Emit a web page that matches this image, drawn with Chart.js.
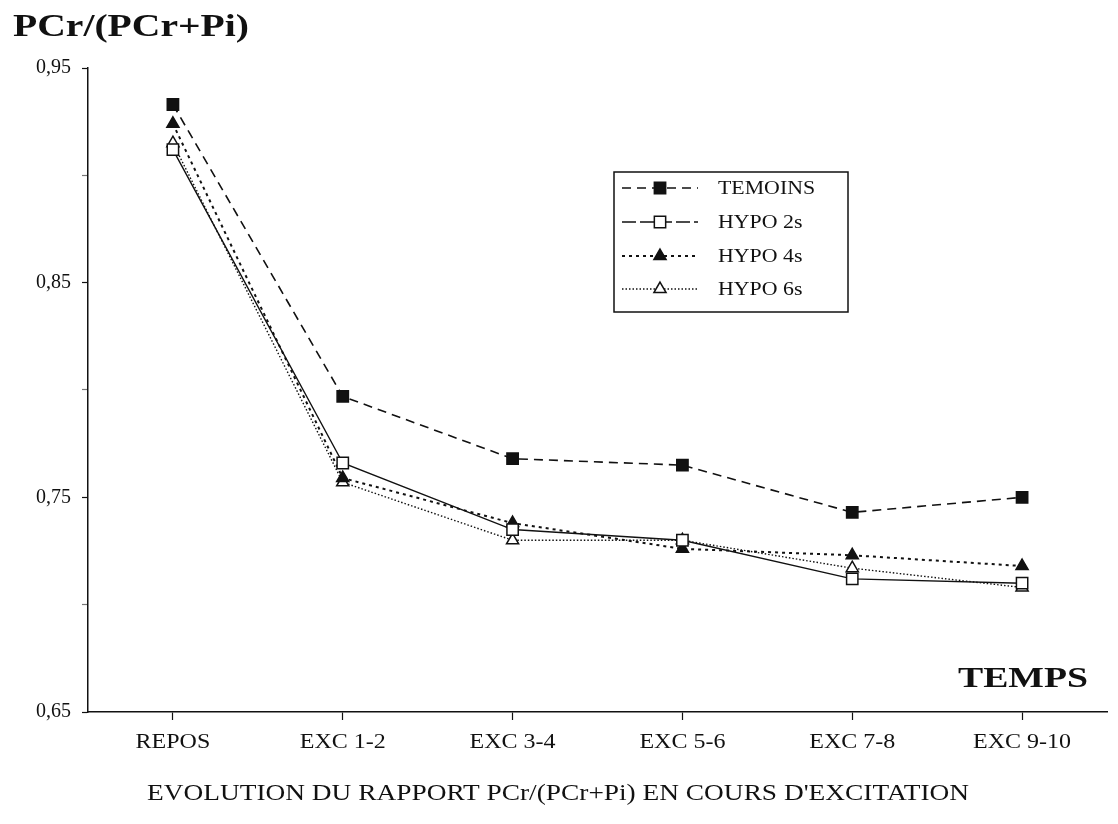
<!DOCTYPE html>
<html>
<head>
<meta charset="utf-8">
<script src="https://cdn.jsdelivr.net/npm/chart.js@4/dist/chart.umd.min.js"></script>
<style>
  html, body { margin: 0; padding: 0; background: #fff; }
  #wrap { width: 1118px; height: 824px; }
</style>
</head>
<body>
<div id="wrap"><canvas id="chart" width="1118" height="824"></canvas></div>
<script>
const categories = ['REPOS', 'EXC 1-2', 'EXC 3-4', 'EXC 5-6', 'EXC 7-8', 'EXC 9-10'];
const temoins = [0.933, 0.797, 0.768, 0.765, 0.743, 0.750];
const hypo2s = [0.912, 0.766, 0.735, 0.730, 0.712, 0.710];
const hypo4s = [0.924, 0.759, 0.738, 0.726, 0.723, 0.718];
const hypo6s = [0.915, 0.757, 0.730, 0.730, 0.717, 0.708];
const yMajorTicks = [0.65, 0.75, 0.85, 0.95];

const SERIF = '"Liberation Serif", "DejaVu Serif", serif';

// text drawn with a horizontal stretch to mimic the wide typewriter-ish face
function drawStretched(ctx, text, x, y, font, stretch, align) {
    ctx.save();
    ctx.font = font;
    ctx.textBaseline = 'middle';
    ctx.textAlign = align || 'center';
    ctx.translate(x, y);
    ctx.scale(stretch, 1);
    ctx.fillText(text, 0, 0);
    ctx.restore();
}

function drawFitted(ctx, text, x, y, font, width, align) {
    ctx.save();
    ctx.font = font;
    const w = ctx.measureText(text).width;
    ctx.restore();
    drawStretched(ctx, text, x, y, font, width / w, align);
}

const decorPlugin = {
    id: 'decor',
    beforeDraw(chart) {
        const ctx = chart.ctx;
        ctx.save();
        ctx.fillStyle = '#fff';
        ctx.fillRect(0, 0, chart.width, chart.height);
        ctx.restore();
    },
    afterDraw(chart) {
        const ctx = chart.ctx;
        const xs = chart.scales.x;
        ctx.fillStyle = '#111';

        // category labels
        categories.forEach((c, i) => {
            drawStretched(ctx, c, xs.getPixelForValue(i), 743, '20px ' + SERIF, 1.2);
        });

        drawFitted(ctx, 'PCr/(PCr+Pi)', 13, 28, 'bold 31px ' + SERIF, 236, 'left');
        drawFitted(ctx, 'TEMPS', 958, 679, 'bold 30px ' + SERIF, 130, 'left');
        drawFitted(ctx, "EVOLUTION DU RAPPORT PCr/(PCr+Pi) EN COURS D'EXCITATION", 558, 794, '24px ' + SERIF, 822, 'center');

        // legend box
        const box = { x: 614, y: 172, w: 234, h: 140 };
        ctx.save();
        ctx.strokeStyle = '#111';
        ctx.lineWidth = 1.5;
        ctx.strokeRect(box.x, box.y, box.w, box.h);
        const rows = [188, 222, 256, 289];
        chart.data.datasets.forEach((ds, i) => {
            const y = rows[i];
            ctx.save();
            ctx.strokeStyle = ds.borderColor;
            ctx.lineWidth = ds.borderWidth;
            ctx.setLineDash(ds.legendDash || ds.borderDash || []);
            ctx.beginPath();
            ctx.moveTo(622, y);
            ctx.lineTo(698, y);
            ctx.stroke();
            ctx.setLineDash([]);
            ctx.fillStyle = ds.pointBackgroundColor;
            ctx.strokeStyle = ds.pointBorderColor;
            ctx.lineWidth = 1.5;
            Chart.helpers.drawPoint(ctx, {
                pointStyle: ds.pointStyle,
                radius: ds.pointRadius,
                rotation: 0,
                borderWidth: 1.5
            }, 660, y);
            ctx.restore();
            ctx.fillStyle = '#111';
            drawStretched(ctx, ds.label, 718, y + 1, '19px ' + SERIF, 1.15, 'left');
        });
        ctx.restore();
    }
};

function series(label, data, style, filled, dash, width, legendDash) {
    return {
        label: label,
        data: data,
        borderColor: '#111',
        borderWidth: width,
        borderDash: dash,
        legendDash: legendDash,
        pointStyle: style,
        pointRadius: style === 'rect' ? 8 : 7,
        pointBackgroundColor: filled ? '#111' : '#fff',
        pointBorderColor: '#111',
        pointBorderWidth: 1.5,
        tension: 0,
        fill: false
    };
}

new Chart(document.getElementById('chart'), {
    type: 'line',
    data: {
        labels: categories,
        datasets: [
            series('TEMOINS', temoins, 'rect', true, [9, 6], 1.6),
            series('HYPO 2s', hypo2s, 'rect', false, [], 1.4, [14, 4]),
            series('HYPO 4s', hypo4s, 'triangle', true, [3, 4], 2),
            series('HYPO 6s', hypo6s, 'triangle', false, [1.5, 2], 1.4)
        ]
    },
    options: {
        responsive: false,
        animation: false,
        devicePixelRatio: 1,
        layout: { padding: { top: 68, right: 11, bottom: 0, left: 0 } },
        plugins: {
            legend: { display: false },
            tooltip: { enabled: false },
            title: { display: false }
        },
        scales: {
            x: {
                type: 'category',
                offset: true,
                grid: { drawOnChartArea: false, offset: false, tickLength: 8, color: '#111', tickWidth: 1.2 },
                border: { color: '#111', width: 1.5 },
                ticks: { display: false },
                afterFit(scale) { scale.height = 112; }
            },
            y: {
                min: 0.65,
                max: 0.95,
                grid: {
                    drawOnChartArea: false,
                    tickLength: 6,
                    tickWidth: 1.2,
                    tickColor: (c) => yMajorTicks.some(v => Math.abs(v - c.tick.value) < 1e-6) ? '#111' : '#777'
                },
                border: { color: '#111', width: 1.5 },
                ticks: {
                    stepSize: 0.05,
                    padding: 11,
                    color: '#111',
                    font: { family: SERIF, size: 20 },
                    callback: (v) => yMajorTicks.some(t => Math.abs(t - v) < 1e-6) ? v.toFixed(2).replace('.', ',') : ''
                },
                afterFit(scale) { scale.width = 88; }
            }
        }
    },
    plugins: [decorPlugin]
});
</script>
</body>
</html>
